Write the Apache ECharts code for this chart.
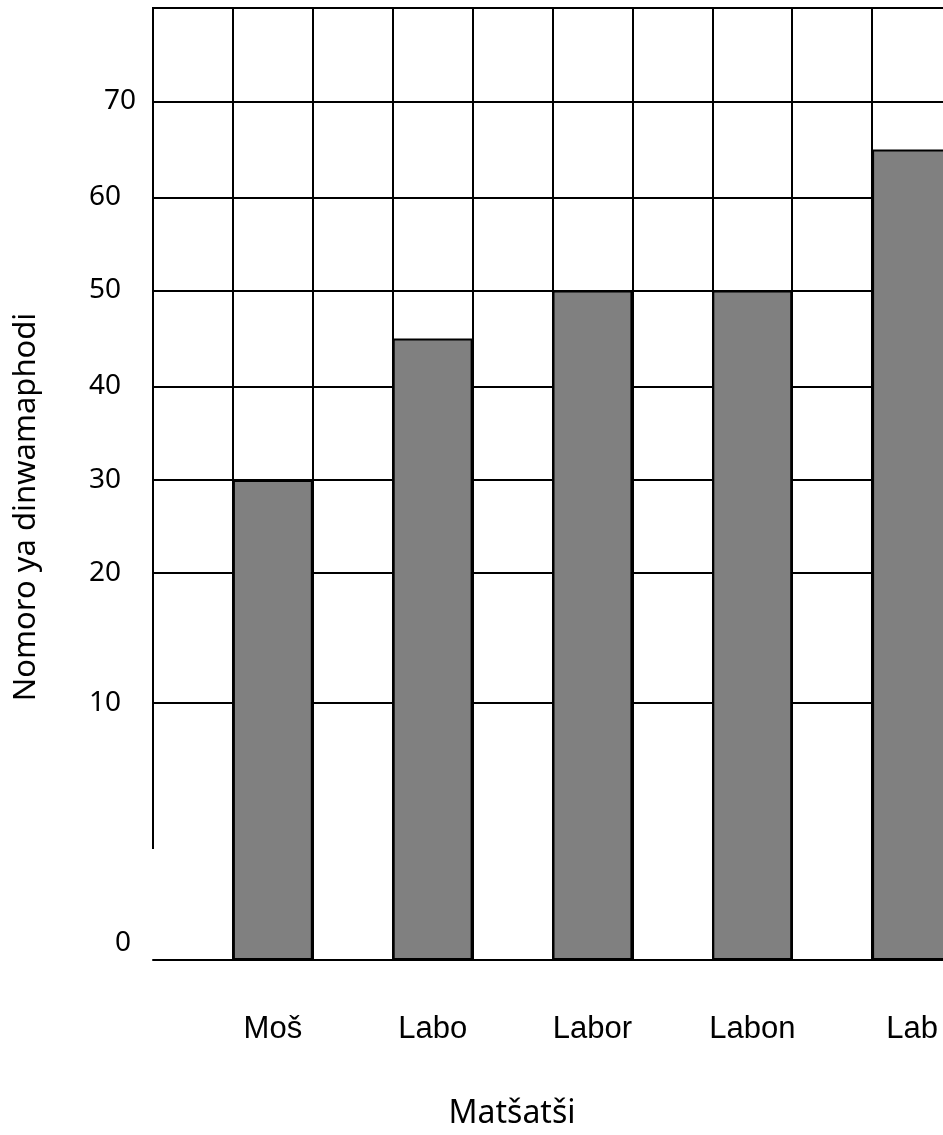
<!DOCTYPE html>
<html><head><meta charset="utf-8">
<script src="https://cdn.jsdelivr.net/npm/echarts@6/dist/echarts.min.js"></script>
<style>html,body{margin:0;padding:0;background:#fff;overflow:hidden}#c{width:943px;height:1135px}</style>
</head><body><div id="c"></div>
<script>
// ---- data ----
const categories = ['Moš', 'Labo', 'Labor', 'Labon', 'Lab'];
const counts = [30, 45, 50, 50, 65];
const yTickValues = [0, 10, 20, 30, 40, 50, 60, 70];
// the printed axis is uneven: position of each tick along the axis (axis units)
const yTickStops = [0, 257, 387, 480, 573.5, 669.5, 762.5, 858.5];
const yAxisTop = 952;
const leftLineStop = 111;
const columnCount = 10;
const yAxisTitle = 'Nomoro ya dinwamaphodi';
const xAxisTitle = 'Matšatši';

function warp(v) {
  for (let i = 1; i < yTickValues.length; i++) {
    if (v <= yTickValues[i]) {
      const t = (v - yTickValues[i - 1]) / (yTickValues[i] - yTickValues[i - 1]);
      return yTickStops[i - 1] + t * (yTickStops[i] - yTickStops[i - 1]);
    }
  }
  return yTickStops[yTickStops.length - 1];
}
function tickLabel(stop) {
  const i = yTickStops.indexOf(stop);
  return i < 0 ? '' : yTickValues[i];
}

const labelFont = { fontFamily: 'Noto Sans', fontSize: 28, color: '#000' };
const chart = echarts.init(document.getElementById('c'), null, { renderer: 'canvas' });
chart.setOption({
  animation: false,
  backgroundColor: '#fff',
  grid: { left: 153, width: 799, top: 8, bottom: 175, containLabel: false, outerBoundsMode: 'none' },
  xAxis: [
    {
      type: 'category', data: categories, position: 'bottom',
      axisLine: { show: true, lineStyle: { color: '#000', width: 2 } },
      axisTick: { show: false },
      splitLine: { show: false },
      axisLabel: { fontFamily: 'Liberation Sans', fontSize: 31, color: '#000', margin: 54, padding: [0, 0, 0, 80] },
      name: xAxisTitle, nameLocation: 'middle', nameGap: 138,
      nameTextStyle: { fontFamily: 'Noto Sans', fontSize: 32, color: '#000', padding: [0, 81, 0, 0] }
    },
    {
      type: 'value', min: 0, max: columnCount, interval: 1, position: 'top',
      axisLine: { show: false }, axisTick: { show: false }, axisLabel: { show: false },
      splitLine: { show: true, showMinLine: false, lineStyle: { color: '#000', width: 2 } }
    }
  ],
  yAxis: {
    type: 'value', min: 0, max: yAxisTop,
    axisLine: { show: false },
    axisTick: { show: false, customValues: yTickStops.concat([yAxisTop]) },
    splitLine: { show: true, lineStyle: { color: '#000', width: 2 } },
    axisLabel: {
      customValues: yTickStops, margin: 17,
      formatter: function (v) {
        const t = tickLabel(v);
        if (t === 70) return '{b|70}';
        if (t === 0) return '{z|0}';
        return '{a|' + t + '}';
      },
      rich: {
        a: Object.assign({ padding: [0, 15, 0, 0] }, labelFont),
        b: Object.assign({ padding: [0, 0, 0, 0] }, labelFont),
        z: Object.assign({ padding: [0, 5, 34, 0] }, labelFont)
      }
    },
    name: yAxisTitle, nameLocation: 'middle', nameGap: 111, nameRotate: 90,
    nameTextStyle: { fontFamily: 'Noto Sans', fontSize: 31, color: '#000', padding: [0, 46, 0, 0] }
  },
  series: [
    {
      type: 'bar', data: categories.map(() => '-'), barGap: '0%', barCategoryGap: '0%',
      silent: true, itemStyle: { color: 'transparent' }
    },
    {
      type: 'bar', name: 'Nomoro', data: counts.map(warp), barGap: '0%', barCategoryGap: '0%',
      itemStyle: { color: '#808080', borderColor: '#000', borderWidth: 2 }
    }
  ]
});

const yTopPx = chart.convertToPixel({ yAxisIndex: 0 }, yAxisTop);
const yEndPx = chart.convertToPixel({ yAxisIndex: 0 }, leftLineStop);
const xLeftPx = chart.convertToPixel({ xAxisIndex: 1 }, 0);
chart.setOption({
  graphic: [{
    type: 'line', z: 100,
    shape: { x1: xLeftPx, y1: yTopPx - 1, x2: xLeftPx, y2: yEndPx },
    style: { stroke: '#000', lineWidth: 2 }
  }]
});
</script></body></html>
